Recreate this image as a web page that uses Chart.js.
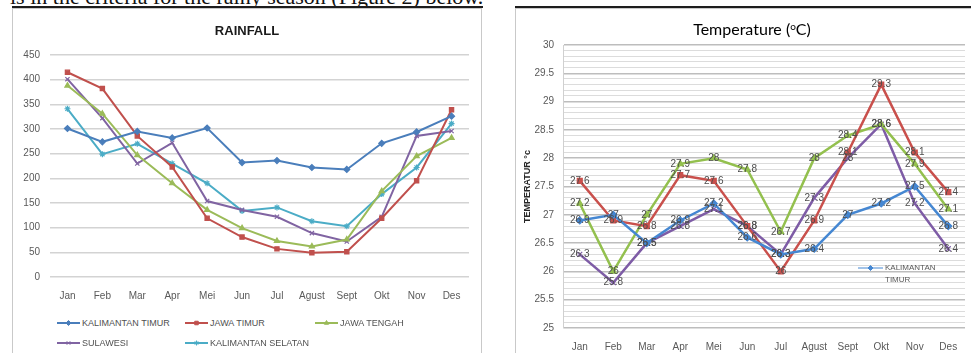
<!DOCTYPE html>
<html>
<head>
<meta charset="utf-8">
<script src="https://cdn.jsdelivr.net/npm/chart.js"></script>
<style>
  html,body{margin:0;padding:0;background:#fff;}
  body{width:971px;height:353px;overflow:hidden;position:relative;font-family:"Liberation Sans",Arial,sans-serif;}
  .abs{position:absolute;}
  #caption{left:10px;top:-14px;font:22px/22px "Liberation Serif","Times New Roman",serif;color:#111;white-space:nowrap;}
  .rule{height:2px;background:#1d1d1d;}
  .box{border:1px solid #c9c9c9;box-sizing:border-box;}
  #titleL{left:12px;width:470px;top:23px;text-align:center;font:bold 13px "Liberation Sans",Arial,sans-serif;color:#1a1a1a;}
  #titleR{left:687px;width:130px;top:19px;text-align:center;font:16px Lato,"Liberation Sans",sans-serif;color:#000;white-space:nowrap;}
  #titleR sup{font-size:10px;vertical-align:5px;}
  .leg{position:absolute;display:flex;align-items:center;font:9px "Liberation Sans",Arial,sans-serif;color:#505050;white-space:nowrap;}
  .leg canvas{margin-right:2px;}
  #legR{left:858px;top:262px;font:8px "Liberation Sans",Arial,sans-serif;color:#595959;line-height:12px;}
</style>
</head>
<body>
<div id="caption" class="abs">is in the criteria for the rainy season (Figure 2) below.</div>
<div class="abs box" style="left:12px;top:8px;width:470px;height:350px;"></div>
<div class="abs box" style="left:515px;top:8px;width:470px;height:350px;"></div>
<div class="abs rule" style="left:12px;top:6px;width:471px;"></div>
<div class="abs rule" style="left:515px;top:6px;width:456px;"></div>
<canvas id="rain" class="abs" style="left:12px;top:8px;" width="470" height="297"></canvas>
<canvas id="temp" class="abs" style="left:515px;top:8px;" width="456" height="345"></canvas>
<div id="titleL" class="abs">RAINFALL</div>
<div id="titleR" class="abs">Temperature (<sup>o</sup>C)</div>
<div id="legL"></div>
<div id="legR" class="abs"></div>
<script>
// ---------- DATA ----------
const months = ['Jan','Feb','Mar','Apr','Mei','Jun','Jul','Agust','Sept','Okt','Nov','Des'];
const seriesNames = ['KALIMANTAN TIMUR','JAWA TIMUR','JAWA TENGAH','SULAWESI','KALIMANTAN SELATAN'];

const rainKalTimur   = [301,274,295,282,302,232,236,222,218,271,294,326];
const rainJawaTimur  = [415,382,286,223,119,81,57,49,51,119,195,339];
const rainJawaTengah = [388,331,247,190,136,99,73,62,76,174,245,282];
const rainSulawesi   = [401,322,230,272,154,136,122,89,72,122,286,296];
const rainKalSelatan = [341,249,270,230,190,134,141,113,103,168,222,311];
const rainTicks = [0,50,100,150,200,250,300,350,400,450];

const tempKalTimur   = [26.9,27,26.5,26.9,27.2,26.6,26.3,26.4,27,27.2,27.5,26.8];
const tempJawaTimur  = [27.6,26.9,26.8,27.7,27.6,26.8,26,26.9,28.1,29.3,28.1,27.4];
const tempJawaTengah = [27.2,26,27,27.9,28,27.8,26.7,28,28.4,28.6,27.9,27.1];
const tempSulawesi   = [26.3,25.8,26.5,26.8,27.1,26.8,26.3,27.3,28,28.6,27.2,26.4];
const tempTicks = [25,25.5,26,26.5,27,27.5,28,28.5,29,29.5,30];
const tempAxisTitle = 'TEMPERATUR °c';

// ---------- STYLE ----------
const FONT = '"Liberation Sans", Arial, sans-serif';
const rainColors = ['#4a7ebb','#c0504d','#9bbb59','#8064a2','#4bacc6'];
const rainPoints = ['rectRot','rect','triangle','crossRot','star'];
const tempColors = ['#4587d2','#c9504c','#93c04e','#7e5ca6'];
const tempPoints = ['rectRot','rect','triangle','crossRot'];

function mkDataset(label, data, color, pstyle, bw, pr){
  return {label, data, borderColor:color, backgroundColor:color, pointStyle:pstyle,
    pointRadius:pr, pointBorderWidth:1.2, borderWidth:bw, tension:0, fill:false};
}

// ---------- RAINFALL ----------
const rainData = [rainKalTimur, rainJawaTimur, rainJawaTengah, rainSulawesi, rainKalSelatan];
new Chart(document.getElementById('rain'), {
  type:'line',
  data:{labels:months, datasets:rainData.map((d,i)=>mkDataset(seriesNames[i], d, rainColors[i], rainPoints[i], 2, 3))},
  options:{
    responsive:false, animation:false, devicePixelRatio:1,
    layout:{padding:{top:47,left:0,right:13,bottom:0}},
    plugins:{legend:{display:false}, title:{display:false}, tooltip:{enabled:false}},
    scales:{
      x:{offset:true, grid:{display:false, drawTicks:false}, border:{display:false},
         ticks:{padding:13, color:'#595959', font:{size:10, family:FONT}, maxRotation:0, autoSkip:false},
         afterFit(s){ s.height = 28; }},
      y:{min:rainTicks[0], max:rainTicks[rainTicks.length-1],
         afterBuildTicks(s){ s.ticks = rainTicks.map(v=>({value:v})); },
         grid:{color:'#d3d3d3', lineWidth:1.5, drawTicks:false}, border:{display:false},
         ticks:{padding:10, color:'#595959', font:{size:10, family:FONT}},
         afterFit(s){ s.width = 38; }}
    }
  }
});

// ---------- legend (HTML) ----------
function drawSample(cv, color, style, lw){
  const c = cv.getContext('2d');
  c.strokeStyle = color; c.fillStyle = color; c.lineWidth = lw;
  c.beginPath(); c.moveTo(0, cv.height/2); c.lineTo(cv.width, cv.height/2); c.stroke();
  if (Chart.helpers && Chart.helpers.drawPoint) {
    c.lineWidth = 1;
    Chart.helpers.drawPoint(c, {pointStyle:style, radius:2.5, borderWidth:1}, cv.width/2, cv.height/2);
  }
}
const legPos = [[57,323],[185,323],[315,323],[57,343],[185,343]];
const legL = document.getElementById('legL');
seriesNames.forEach((name,i)=>{
  const d = document.createElement('div');
  d.className = 'leg';
  d.style.left = legPos[i][0] + 'px';
  d.style.top = (legPos[i][1] - 6) + 'px';
  d.style.height = '12px';
  const cv = document.createElement('canvas');
  cv.width = 23; cv.height = 10;
  d.appendChild(cv);
  const sp = document.createElement('span');
  sp.textContent = name;
  d.appendChild(sp);
  legL.appendChild(d);
  drawSample(cv, rainColors[i], rainPoints[i], 2);
});

// ---------- TEMPERATURE ----------
const valueLabels = {
  id:'valueLabels',
  afterDatasetsDraw(chart){
    const c = chart.ctx;
    c.save();
    c.font = '10px ' + FONT;
    c.fillStyle = '#4d4d4d';
    c.textAlign = 'center';
    c.textBaseline = 'middle';
    chart.data.datasets.forEach((ds, di)=>{
      const meta = chart.getDatasetMeta(di);
      meta.data.forEach((pt, i)=>{
        c.fillText(String(ds.data[i]), pt.x, pt.y);
      });
    });
    c.restore();
  }
};
const tempData = [tempKalTimur, tempJawaTimur, tempJawaTengah, tempSulawesi];
const isMajor = v => Math.abs(v*2 - Math.round(v*2)) < 1e-6;
new Chart(document.getElementById('temp'), {
  type:'line',
  data:{labels:months, datasets:tempData.map((d,i)=>mkDataset(seriesNames[i], d, tempColors[i], tempPoints[i], 2.5, 3.5))},
  options:{
    responsive:false, animation:false, devicePixelRatio:1,
    layout:{padding:{top:37,left:0,right:6,bottom:0}},
    plugins:{legend:{display:false}, title:{display:false}, tooltip:{enabled:false}},
    scales:{
      x:{offset:true, grid:{display:false, drawTicks:false}, border:{display:false},
         ticks:{padding:13, color:'#595959', font:{size:10, family:FONT}, maxRotation:0, autoSkip:false},
         afterFit(s){ s.height = 25; }},
      y:{min:tempTicks[0], max:tempTicks[tempTicks.length-1],
         ticks:{stepSize:0.1, autoSkip:false, padding:9, color:'#595959', font:{size:10, family:FONT},
                callback:(v)=> isMajor(v) ? String(Math.round(v*10)/10) : ''},
         grid:{drawTicks:false,
               color:(ctx)=> isMajor(ctx.tick.value) ? '#bdbdbd' : '#dcdcdc',
               lineWidth:(ctx)=> isMajor(ctx.tick.value) ? 1.5 : 1},
         border:{display:true, color:'#d0d0d0'},
         title:{display:true, text:tempAxisTitle, color:'#262626', padding:{top:7,bottom:0},
                font:{size:9, weight:'bold', family:FONT}},
         afterFit(s){ s.width = 48; }}
    }
  },
  plugins:[valueLabels]
});

// temperature legend (only first series shown in the reference)
const legR = document.getElementById('legR');
(function(){
  const row = document.createElement('div');
  row.style.display = 'flex'; row.style.alignItems = 'center';
  const cv = document.createElement('canvas');
  cv.width = 25; cv.height = 8; cv.style.marginRight = '2px';
  row.appendChild(cv);
  const w = seriesNames[0].split(' ');
  const sp = document.createElement('span'); sp.textContent = w[0];
  row.appendChild(sp);
  legR.appendChild(row);
  const row2 = document.createElement('div');
  row2.style.paddingLeft = '27px';
  row2.textContent = w.slice(1).join(' ');
  legR.appendChild(row2);
  drawSample(cv, tempColors[0], tempPoints[0], 1);
})();
</script>
</body>
</html>
